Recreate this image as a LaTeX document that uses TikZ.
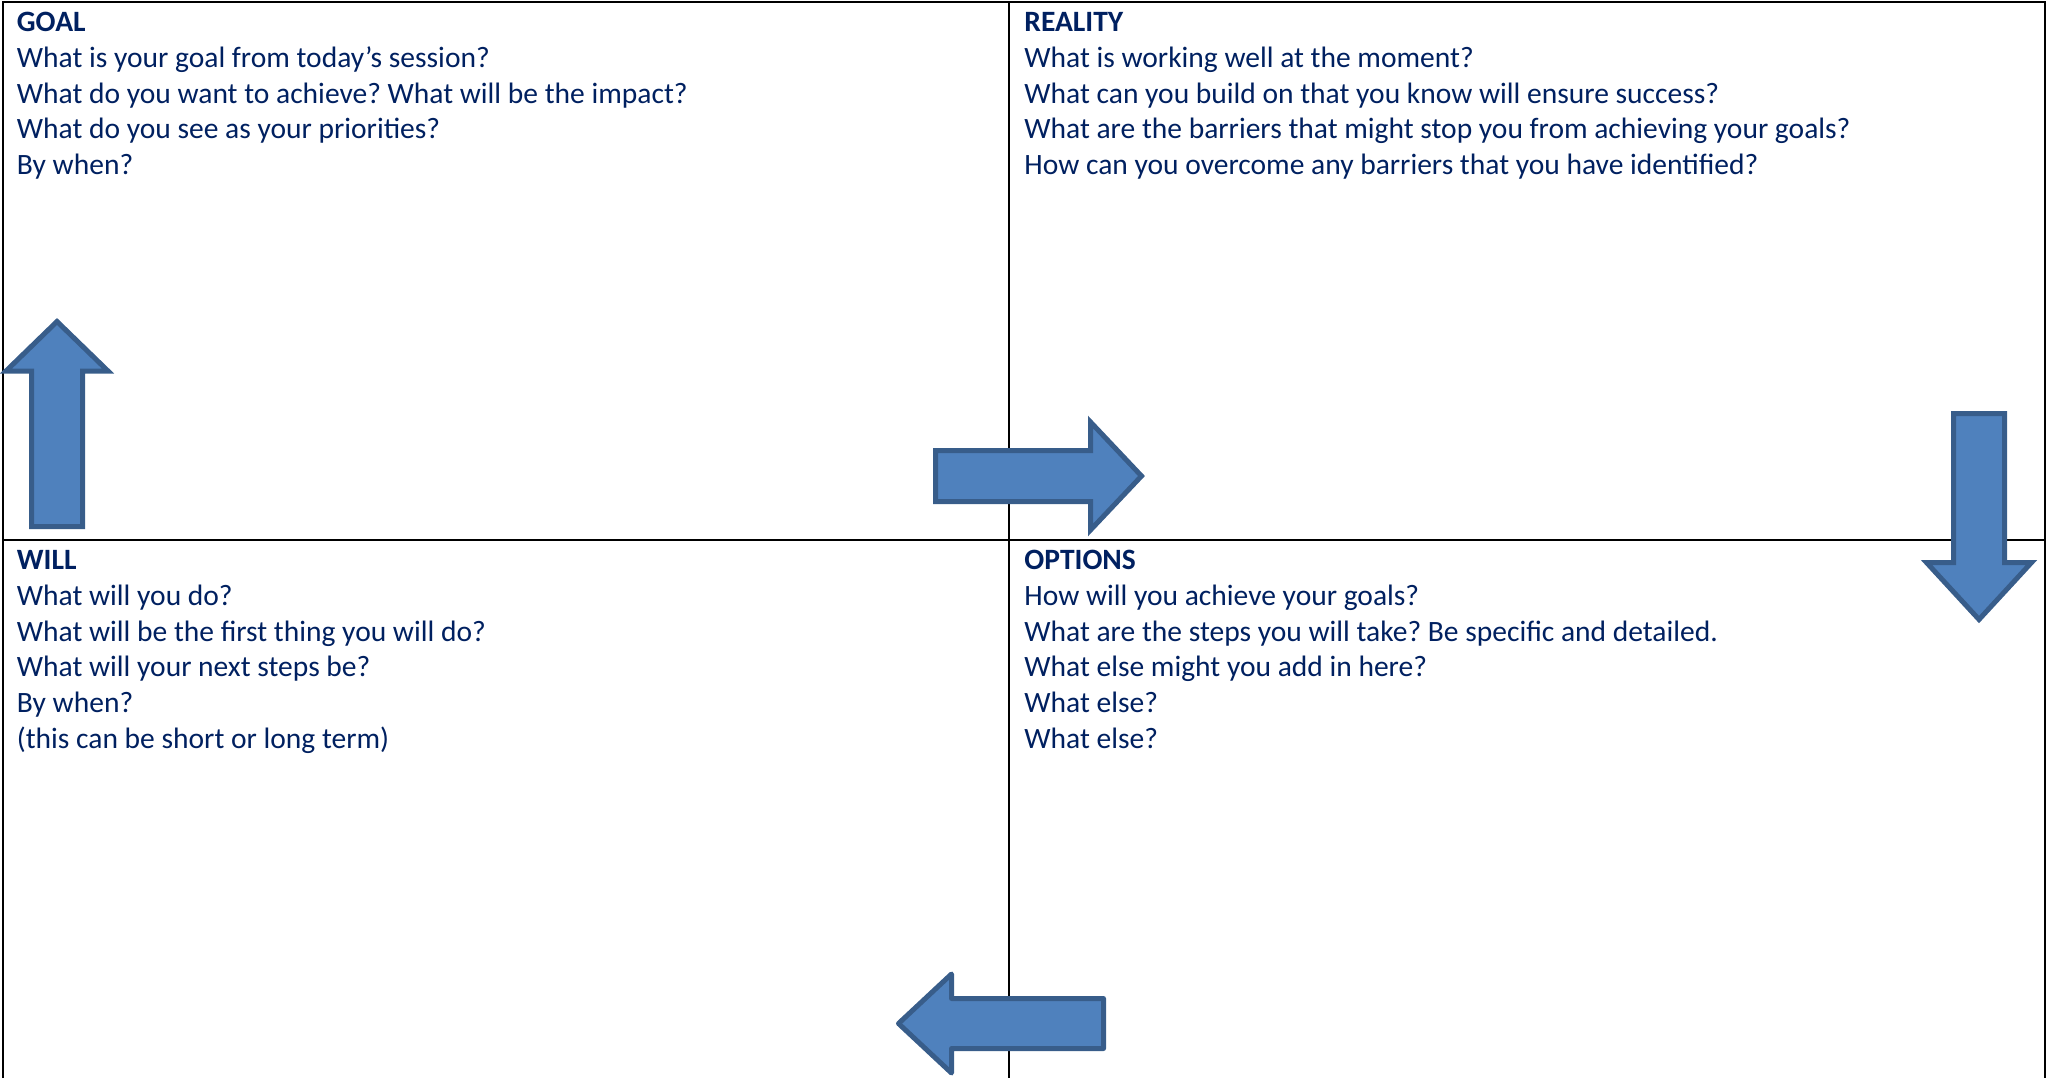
\documentclass[tikz,border=0pt]{standalone}
\usepackage{fontspec}
\setmainfont{Carlito}
\frenchspacing
\definecolor{txtblue}{RGB}{0,32,96}
\definecolor{arrowfill}{HTML}{4F81BD}
\definecolor{arrowline}{HTML}{385D8A}
\tikzset{
  grid line/.style={draw=black, line width=1pt},
  blockarrow/.style={fill=arrowfill, draw=arrowline, line width=2.5pt},
  qtext/.style={anchor=base west, inner sep=0pt, text=txtblue,
    font=\fontsize{14.76pt}{17.9pt}\selectfont\frenchspacing}
}
\begin{document}
\begin{tikzpicture}[x=0.5pt,y=-0.5pt]
\useasboundingbox (0,0) rectangle (2049,1078);
% grid
\coordinate (tl) at (3,1.5);
\coordinate (tr) at (2044.5,1.5);
\coordinate (bl) at (3,1078);
\coordinate (br) at (2044.5,1078);
\coordinate (mt) at (1008.5,1.5);
\coordinate (mb) at (1008.5,1078);
\coordinate (ml) at (3,540);
\coordinate (mr) at (2044.5,540);
\draw[grid line] (bl) -- (tl) -- (tr) -- (br);
\draw[grid line] (mt) -- (mb);
\draw[grid line] (ml) -- (mr);
% texts
\renewcommand{\arraystretch}{1}
\node[qtext] (goal) at (16.5,31.5) {\begin{tabular}[t]{@{}l@{}}\textbf{GOAL}\\
What is your goal from today’s session?\\
What do you want to achieve? What will be the impact?\\
What do you see as your priorities?\\
By when?\end{tabular}};
\node[qtext] (reality) at (1024,31.5) {\begin{tabular}[t]{@{}l@{}}\textbf{REALITY}\\
What is working well at the moment?\\
What can you build on that you know will ensure success?\\
What are the barriers that might stop you from achieving your goals?\\
How can you overcome any barriers that you have identified?\end{tabular}};
\node[qtext] (will) at (16.5,569.5) {\begin{tabular}[t]{@{}l@{}}\textbf{WILL}\\
What will you do?\\
What will be the first thing you will do?\\
What will your next steps be?\\
By when?\\
(this can be short or long term)\end{tabular}};
\node[qtext] (options) at (1024,569.5) {\begin{tabular}[t]{@{}l@{}}\textbf{OPTIONS}\\
How will you achieve your goals?\\
What are the steps you will take? Be specific and detailed.\\
What else might you add in here?\\
What else?\\
What else?\end{tabular}};
% arrows
\draw[blockarrow] (31.5,526.5) -- (31.5,371) -- (6,371) -- (57,321.5) -- (108,371) -- (82.5,371) -- (82.5,526.5) -- cycle;
\draw[blockarrow] (935.5,450.5) -- (1090.5,450.5) -- (1090.5,422) -- (1141.5,476) -- (1090.5,530) -- (1090.5,501.5) -- (935.5,501.5) -- cycle;
\draw[blockarrow] (1953.5,413.5) -- (2004.5,413.5) -- (2004.5,562.5) -- (2031.5,562.5) -- (1979,619.5) -- (1926.5,562.5) -- (1953.5,562.5) -- cycle;
\draw[blockarrow, line join=round] (1103.5,998.5) -- (951.5,998.5) -- (951.5,974) -- (898.5,1023.5) -- (951.5,1073) -- (951.5,1048.5) -- (1103.5,1048.5) -- cycle;
\end{tikzpicture}
\end{document}
